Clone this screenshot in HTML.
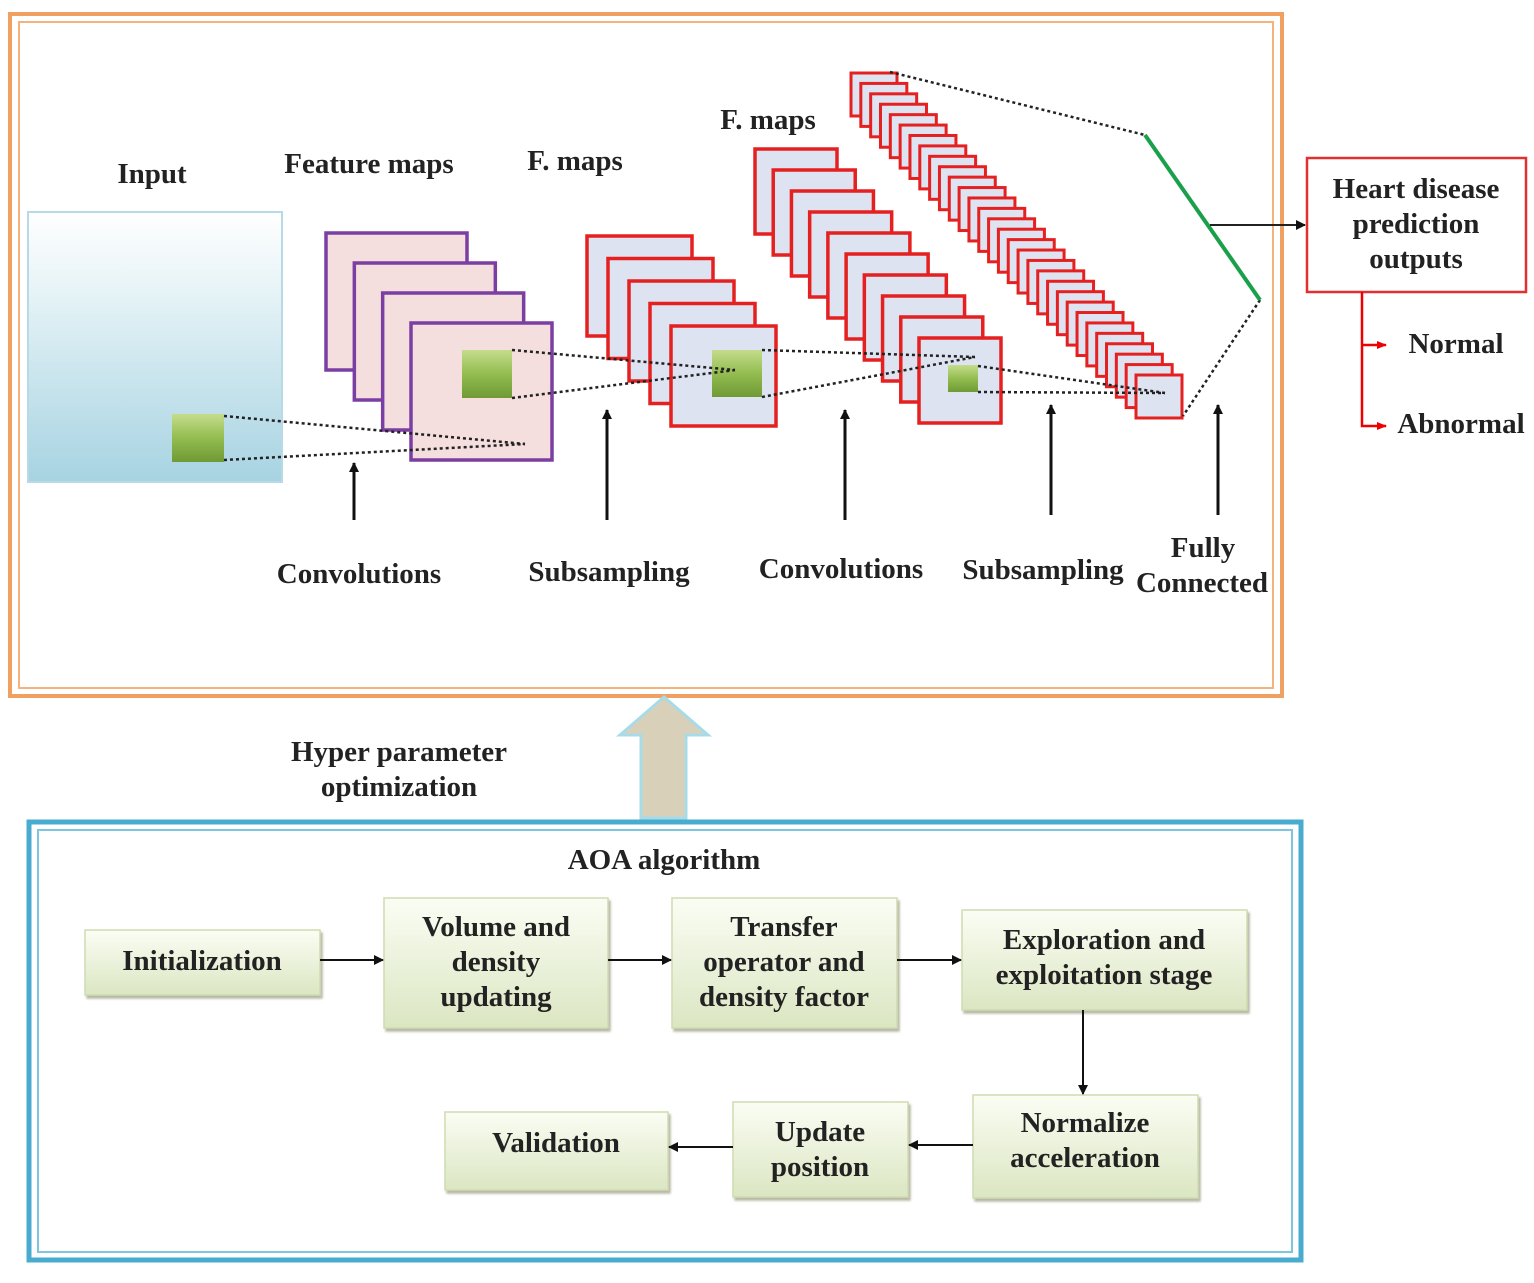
<!DOCTYPE html>
<html><head><meta charset="utf-8"><style>
html,body{margin:0;padding:0;background:#fff}
svg{display:block}
text{font-family:"Liberation Serif","Times New Roman",serif;font-weight:bold;fill:#222;font-size:29px;text-anchor:middle}
</style></head><body>
<svg id="s" width="1534" height="1283" viewBox="0 0 1534 1283" xmlns="http://www.w3.org/2000/svg">
<defs>
<linearGradient id="inp" x1="0" y1="0" x2="0" y2="1"><stop offset="0" stop-color="#ffffff"/><stop offset="0.3" stop-color="#e6f3f7"/><stop offset="1" stop-color="#a7d3e2"/></linearGradient>
<linearGradient id="gr" x1="0" y1="0" x2="0" y2="1"><stop offset="0" stop-color="#c5dc8c"/><stop offset="0.5" stop-color="#93bd50"/><stop offset="1" stop-color="#6f9a35"/></linearGradient>
<linearGradient id="bx" x1="0" y1="0" x2="0" y2="1"><stop offset="0" stop-color="#fbfdf4"/><stop offset="1" stop-color="#dbe6c2"/></linearGradient>
<marker id="ar" markerWidth="10" markerHeight="10" refX="9" refY="5" orient="auto" markerUnits="userSpaceOnUse"><path d="M0,0 L10,5 L0,10 z" fill="#111"/></marker>
<marker id="rr" markerWidth="10" markerHeight="10" refX="9" refY="5" orient="auto" markerUnits="userSpaceOnUse"><path d="M0,1 L10,5 L0,9 z" fill="#e00"/></marker>
</defs>
<rect x="10" y="14" width="1272" height="682" fill="none" stroke="#f0a060" stroke-width="4"/>
<rect x="19" y="22" width="1254" height="666" fill="none" stroke="#f4b27c" stroke-width="2"/>
<rect x="28" y="212" width="254" height="270" fill="url(#inp)" stroke="#b6dbe7" stroke-width="2"/>
<rect x="172" y="414" width="52" height="48" fill="url(#gr)"/>
<g id="stacks"></g>
<g stroke="#222" stroke-width="2.5" stroke-dasharray="3,3" fill="none">
<line x1="224" y1="416" x2="525" y2="444"/><line x1="224" y1="460" x2="525" y2="444"/>
<line x1="512" y1="350" x2="735" y2="370"/><line x1="512" y1="398" x2="735" y2="370"/>
<line x1="762" y1="350" x2="975" y2="357"/><line x1="762" y1="397" x2="975" y2="357"/>
<line x1="978" y1="366" x2="1165" y2="393"/><line x1="978" y1="392" x2="1165" y2="393"/>
<line x1="890" y1="72" x2="1145" y2="135"/><line x1="1260" y1="300" x2="1183" y2="416"/>
</g>
<line x1="1145" y1="135" x2="1260" y2="300" stroke="#1aa04a" stroke-width="4"/>
<line x1="1210" y1="225" x2="1305" y2="225" stroke="#222" stroke-width="2" marker-end="url(#ar)"/>
<g stroke="#111" stroke-width="3" marker-end="url(#ar)">
<line x1="354" y1="520" x2="354" y2="463"/><line x1="607" y1="520" x2="607" y2="410"/>
<line x1="845" y1="520" x2="845" y2="410"/><line x1="1051" y1="515" x2="1051" y2="405"/>
<line x1="1218" y1="515" x2="1218" y2="405"/>
</g>
<text x="152" y="183">Input</text><text x="369" y="173">Feature maps</text>
<text x="575" y="170">F. maps</text><text x="768" y="129">F. maps</text>
<text x="359" y="583">Convolutions</text><text x="609" y="581">Subsampling</text>
<text x="841" y="578">Convolutions</text><text x="1043" y="579">Subsampling</text>
<text x="1203" y="557">Fully</text><text x="1202" y="592">Connected</text>
<rect x="1307" y="158" width="219" height="134" fill="#fff" stroke="#e23030" stroke-width="2.5"/>
<text x="1416" y="198">Heart disease</text><text x="1416" y="233">prediction</text><text x="1416" y="268">outputs</text>
<g stroke="#e00" stroke-width="2.5" fill="none">
<polyline points="1362,292 1362,426 1386,426" marker-end="url(#rr)"/>
<line x1="1362" y1="345" x2="1386" y2="345" marker-end="url(#rr)"/>
</g>
<text x="1456" y="353">Normal</text><text x="1461" y="433">Abnormal</text>
<path d="M641,818 L641,735 L620,735 L664,697 L708,735 L686,735 L686,818 Z" fill="#d8d0b8" stroke="#a8dbe8" stroke-width="3"/>
<text x="399" y="761">Hyper parameter</text><text x="399" y="796">optimization</text>
<rect x="29" y="822" width="1272" height="438" fill="none" stroke="#48acd0" stroke-width="5"/>
<rect x="38" y="830" width="1254" height="422" fill="none" stroke="#7ec6de" stroke-width="2"/>
<text x="664" y="869">AOA algorithm</text>
<g fill="url(#bx)" stroke="#cfdcb0" stroke-width="1.5" style="filter:drop-shadow(2px 3px 1px #b9b9a8)">
<rect x="85" y="930" width="235" height="65"/>
<rect x="384" y="898" width="224" height="130"/>
<rect x="672" y="898" width="225" height="130"/>
<rect x="962" y="910" width="285" height="100"/>
<rect x="973" y="1095" width="225" height="103"/>
<rect x="733" y="1102" width="175" height="95"/>
<rect x="445" y="1112" width="223" height="78"/>
</g>
<text x="202" y="970">Initialization</text>
<text x="496" y="936">Volume and</text><text x="496" y="971">density</text><text x="496" y="1006">updating</text>
<text x="784" y="936">Transfer</text><text x="784" y="971">operator and</text><text x="784" y="1006">density factor</text>
<text x="1104" y="949">Exploration and</text><text x="1104" y="984">exploitation stage</text>
<text x="1085" y="1132">Normalize</text><text x="1085" y="1167">acceleration</text>
<text x="820" y="1141">Update</text><text x="820" y="1176">position</text>
<text x="556" y="1152">Validation</text>
<g stroke="#111" stroke-width="2" marker-end="url(#ar)">
<line x1="320" y1="960" x2="383" y2="960"/><line x1="608" y1="960" x2="671" y2="960"/>
<line x1="897" y1="960" x2="961" y2="960"/><line x1="1083" y1="1010" x2="1083" y2="1094"/>
<line x1="973" y1="1145" x2="909" y2="1145"/><line x1="733" y1="1147" x2="669" y2="1147"/>
</g>
</svg>
<script>
var g=document.getElementById('stacks'),ns='http://www.w3.org/2000/svg';
function R(x,y,w,h,f,s,sw){var r=document.createElementNS(ns,'rect');r.setAttribute('x',x);r.setAttribute('y',y);r.setAttribute('width',w);r.setAttribute('height',h);r.setAttribute('fill',f);if(s){r.setAttribute('stroke',s);r.setAttribute('stroke-width',sw);}g.appendChild(r);}
function stack(x0,y0,x1,y1,w,h,n,f,s,sw){for(var i=0;i<n;i++){var t=n>1?i/(n-1):0;R(x0+(x1-x0)*t,y0+(y1-y0)*t,w,h,f,s,sw);}}
stack(326,233,411,323,141,137,4,'#f5dede','#7b3fa3',3.5);
R(462,350,50,48,'url(#gr)');
stack(587,236,671,326,105,100,5,'#dde3f1','#e52020',3.5);
R(712,350,50,47,'url(#gr)');
stack(755,149,919,338,82,85,10,'#dde3f1','#e52020',3.5);
R(948,365,30,27,'url(#gr)');
stack(851,73,1136,375,46,43,30,'#dde3f1','#e52020',3);
</script>
</body></html>
